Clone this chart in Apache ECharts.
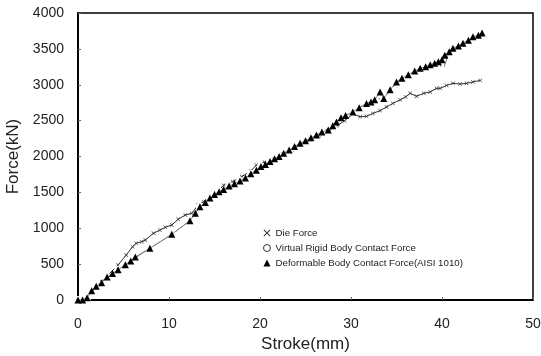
<!DOCTYPE html>
<html>
<head>
<meta charset="utf-8">
<script src="https://cdn.jsdelivr.net/npm/echarts@6/dist/echarts.min.js"></script>
<style>html,body{margin:0;padding:0;background:#fff}#c{width:541px;height:356px}</style>
</head>
<body>
<div id="c"></div>
<script>
// Data
var xTicks = [0, 10, 20, 30, 40, 50];
var yTicks = [0, 500, 1000, 1500, 2000, 2500, 3000, 3500, 4000];
var seriesNames = ['Die Force', 'Virtual Rigid Body Contact Force', 'Deformable Body Contact Force(AISI 1010)'];

var dieStroke = [0, 0.4, 1.0, 1.9, 2.6, 3.3, 4.4, 5.3, 6.0, 6.4, 7.0, 7.4, 8.3, 9.0, 9.6, 10.3, 11.0, 11.8, 12.5, 13.2, 13.8, 14.5, 15.2, 16.0, 17.0, 18.0, 19.0, 19.6, 20.5, 21.5, 22.5, 23.5, 24.5, 25.5, 26.5, 27.5, 28.5, 29.3, 30.2, 31.0, 31.7, 32.4, 33.2, 33.9, 34.6, 35.4, 36.0, 36.5, 37.2, 38.0, 38.7, 39.4, 39.8, 40.5, 41.2, 42.0, 42.7, 43.4, 44.2];
var dieForce = [0, 0, 60, 165, 250, 348, 488, 627, 743, 790, 813, 836, 930, 975, 1013, 1045, 1125, 1185, 1208, 1324, 1370, 1440, 1490, 1600, 1650, 1720, 1800, 1880, 1920, 1960, 2030, 2090, 2170, 2230, 2290, 2350, 2430, 2500, 2590, 2555, 2560, 2600, 2640, 2690, 2740, 2790, 2830, 2880, 2840, 2880, 2900, 2950, 2950, 2990, 3020, 3010, 3020, 3040, 3060];

var virtStroke = [0, 1.0, 2.0, 3.2, 4.4, 5.8, 7.9, 10.3, 12.3, 13.4, 14.5, 15.5, 16.6, 17.8, 19.0, 20.1, 21.1, 22.1, 23.2, 24.4, 25.6, 26.8, 28.0, 28.9, 30.2, 31.7, 32.6, 33.6, 34.3, 35.6, 37.0, 38.2, 39.2, 39.6, 40.1, 40.8, 41.8, 42.9, 44.0];
var virtForce = [0, 30, 190, 320, 420, 545, 720, 915, 1105, 1300, 1420, 1510, 1590, 1660, 1760, 1860, 1930, 2000, 2090, 2185, 2260, 2340, 2430, 2540, 2620, 2740, 2790, 2820, 2930, 3090, 3190, 3250, 3300, 3330, 3200, 3460, 3540, 3620, 3690];

var defStroke = [0, 0.5, 1.0, 1.5, 2.0, 2.6, 3.2, 3.8, 4.4, 5.2, 5.8, 6.3, 7.9, 10.3, 12.3, 12.9, 13.4, 14.0, 14.5, 15.0, 15.5, 16.0, 16.6, 17.2, 17.8, 18.4, 19.0, 19.6, 20.1, 20.6, 21.1, 21.6, 22.1, 22.6, 23.2, 23.8, 24.4, 25.0, 25.6, 26.2, 26.8, 27.5, 28.0, 28.4, 28.9, 29.4, 30.2, 30.9, 31.7, 32.2, 32.6, 33.2, 33.6, 34.3, 35.0, 35.6, 36.3, 37.0, 37.6, 38.2, 38.7, 39.2, 39.6, 40.0, 40.3, 40.8, 41.2, 41.8, 42.3, 42.9, 43.4, 44.0, 44.4];
var defForce = [0, 0, 30, 130, 190, 240, 320, 370, 420, 490, 545, 600, 720, 915, 1105, 1210, 1300, 1360, 1420, 1470, 1510, 1540, 1590, 1620, 1660, 1700, 1760, 1810, 1860, 1890, 1930, 1970, 2000, 2045, 2090, 2140, 2185, 2220, 2260, 2300, 2340, 2370, 2430, 2480, 2540, 2570, 2620, 2680, 2740, 2760, 2790, 2900, 2810, 2930, 3040, 3090, 3140, 3190, 3230, 3250, 3280, 3300, 3320, 3350, 3410, 3460, 3510, 3540, 3580, 3620, 3670, 3690, 3720];

function pairs(xs, ys) { return xs.map(function (x, i) { return [x, ys[i]]; }); }

var crossPath = 'path://M0,1L1,0L5,4L9,0L10,1L6,5L10,9L9,10L5,6L1,10L0,9L4,5Z';
var font = 'Liberation Sans, Arial, Helvetica, sans-serif';

var chart = echarts.init(document.getElementById('c'), null, {renderer: 'canvas'});
chart.setOption({
  animation: false,
  backgroundColor: '#fff',
  textStyle: {fontFamily: font},
  grid: {left: 78, right: 8, top: 13, bottom: 56, outerBoundsMode: 'none', containLabel: false,
         show: true, borderColor: '#000', borderWidth: 1.5, backgroundColor: 'transparent'},
  xAxis: {
    type: 'value', min: xTicks[0], max: xTicks[xTicks.length - 1], interval: 10,
    name: 'Stroke(mm)', nameLocation: 'middle', nameGap: 34,
    nameTextStyle: {fontSize: 17, color: '#222', fontFamily: font},
    axisLine: {show: true, lineStyle: {color: '#000', width: 2}},
    axisTick: {show: true, inside: true, length: 3, lineStyle: {color: '#666'}},
    axisLabel: {fontSize: 14, color: '#222', margin: 17, fontFamily: font},
    splitLine: {show: false}
  },
  yAxis: {
    type: 'value', min: yTicks[0], max: yTicks[yTicks.length - 1], interval: 500,
    name: 'Force(kN)', nameLocation: 'middle', nameGap: 48, nameRotate: 90,
    nameTextStyle: {fontSize: 17, color: '#222', fontFamily: font},
    axisLine: {show: true, lineStyle: {color: '#000', width: 2}},
    axisTick: {show: true, inside: true, length: 3, lineStyle: {color: '#666'}},
    axisLabel: {fontSize: 14, color: '#222', margin: 14, fontFamily: font,
                formatter: function (v) { return String(v); }},
    splitLine: {show: false}
  },
  legend: {
    orient: 'vertical', left: 258, top: 223, itemGap: 5, itemWidth: 7, itemHeight: 7,
    textStyle: {fontSize: 9.7, color: '#222', fontFamily: font},
    data: [
      {name: seriesNames[0], icon: crossPath, itemStyle: {color: '#333'}},
      {name: seriesNames[1], icon: 'circle', itemStyle: {color: '#fff', borderColor: '#333', borderWidth: 1}},
      {name: seriesNames[2], icon: 'triangle', itemStyle: {color: '#000'}}
    ]
  },
  series: [
    {
      name: seriesNames[0], type: 'line', data: pairs(dieStroke, dieForce), z: 3,
      symbol: crossPath, symbolSize: 4, showAllSymbol: true,
      lineStyle: {color: '#333', width: 1},
      itemStyle: {color: '#333'}
    },
    {
      name: seriesNames[1], type: 'line', data: pairs(virtStroke, virtForce), z: 4,
      symbol: 'emptyCircle', symbolSize: 6, showAllSymbol: true,
      lineStyle: {color: '#777', width: 1},
      itemStyle: {color: '#fff', borderColor: '#333', borderWidth: 1}
    },
    {
      name: seriesNames[2], type: 'line', data: pairs(defStroke, defForce), z: 5,
      symbol: 'triangle', symbolSize: 7, showAllSymbol: true,
      lineStyle: {color: '#888', width: 1},
      itemStyle: {color: '#000'}
    }
  ]
});
</script>
</body>
</html>
